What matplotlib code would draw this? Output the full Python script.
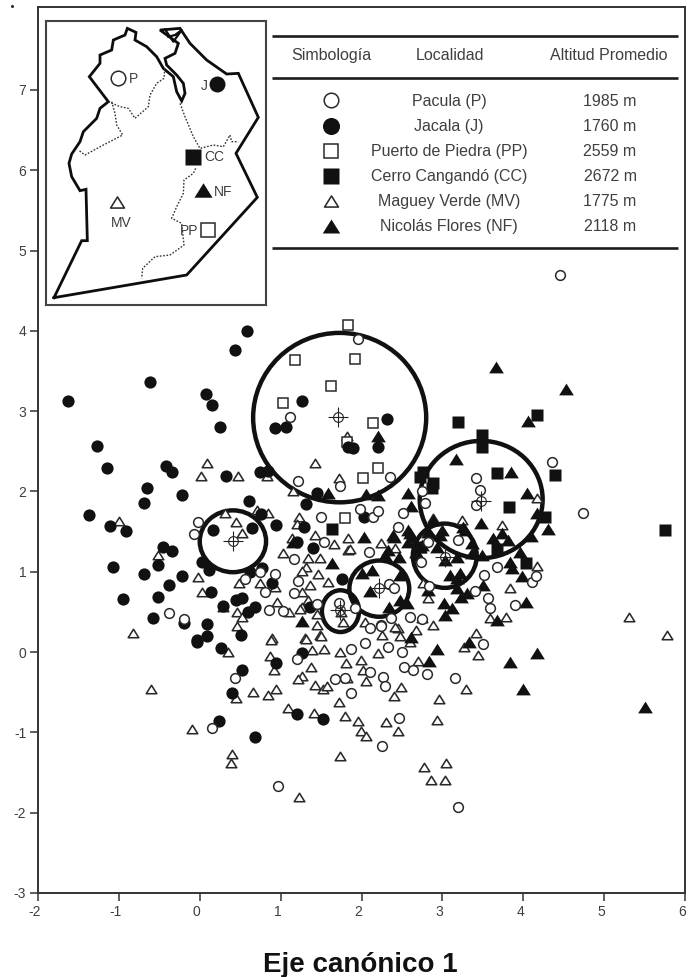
import matplotlib
matplotlib.use('Agg')
import matplotlib.pyplot as plt
from matplotlib.markers import MarkerStyle
from matplotlib.patches import Ellipse
from matplotlib.path import Path
from matplotlib.transforms import ScaledTranslation

plt.rcParams['font.family'] = ['Liberation Sans', 'DejaVu Sans']
plt.rcParams['axes.unicode_minus'] = False

# Data (eje canonico 1, eje canonico 2)
pacula_x = [1.12, 1.21, 1.73, 1.50, -0.02, -0.07, 1.54, 1.16, 1.22, 1.17, 0.56, 0.74, 0.93, 0.81, 0.86, 1.03, 1.45, 1.72,
            -0.38, -0.19, 1.96, 3.42, 3.46, 3.42, 4.35, 4.74, 2.75, 2.78, 2.51, 2.45, 2.35, 1.98, 2.14, 2.21, 2.09, 2.82,
            3.19, 2.73, 3.67, 3.52, 3.40, 3.56, 3.59, 3.90, 4.11, 4.16, 2.83, 2.34, 2.40, 1.92, 2.60, 2.37, 2.24, 2.10,
            0.43, 1.20, 1.67, 1.80, 1.87, 1.87, 0.15, 2.04, 2.24, 2.75, 2.33, 2.50, 2.10, 2.26, 2.29, 2.53, 2.64, 2.81,
            3.15, 3.50, 2.46, 2.25, 0.97, 3.19, 4.46]
pacula_y = [2.93, 2.13, 2.07, 1.68, 1.62, 1.47, 1.37, 1.16, 0.89, 0.74, 0.91, 1.00, 0.97, 0.75, 0.52, 0.51, 0.60, 0.61,
            0.49, 0.41, 3.90, 2.17, 2.02, 1.83, 2.37, 1.73, 2.01, 1.86, 1.73, 1.56, 2.18, 1.78, 1.68, 1.76, 1.25, 1.37,
            1.40, 1.12, 1.06, 0.96, 0.76, 0.67, 0.55, 0.59, 0.87, 0.95, 0.82, 0.85, 0.80, 0.55, 0.44, 0.42, 0.34, 0.30,
            -0.32, -0.08, -0.34, -0.32, -0.51, 0.04, -0.95, 0.11, 0.32, 0.41, 0.06, 0.00, -0.25, -0.31, -0.42, -0.19, -0.22, -0.27,
            -0.32, 0.10, -0.82, -1.17, -1.67, -1.93, 4.69]

jacala_x = [-1.63, -1.27, -1.15, -0.61, 0.08, 0.15, 0.25, 0.43, 0.58, -0.42, -0.34, -0.65, -0.69, -0.22, -1.37, -1.11, -0.91,
            -1.07, -0.69, -0.52, -0.45, -0.34, -0.22, -0.38, -0.52, -0.95, -0.58, -0.19, 0.09, 0.09, -0.03, 0.32, 0.75, 0.85,
            0.61, 0.76, 0.94, 1.29, 1.31, 0.16, 0.64, 0.03, 0.11, 0.62, 0.77, 0.14, 0.29, 0.45, 0.52, 0.68, 0.60, 0.51, 0.89,
            1.20, 1.40, 1.76, 1.36, 1.27, 0.93, 1.07, 1.45, 1.83, 2.31, 2.21, 1.89, 2.03, -0.03, 0.26, 0.94, 1.26, 0.52, 0.40,
            0.24, 0.68, 1.20, 1.52]
jacala_y = [3.13, 2.57, 2.29, 3.36, 3.22, 3.08, 2.80, 3.76, 4.00, 2.32, 2.24, 2.04, 1.86, 1.96, 1.71, 1.57, 1.51,
            1.06, 0.97, 1.08, 1.31, 1.26, 0.95, 0.84, 0.69, 0.66, 0.42, 0.36, 0.35, 0.20, 0.15, 2.19, 2.24, 2.25,
            1.88, 1.72, 1.58, 1.56, 1.84, 1.52, 1.54, 1.12, 1.02, 1.00, 1.05, 0.75, 0.57, 0.65, 0.67, 0.56, 0.50, 0.21, 0.86,
            1.37, 1.30, 0.91, 0.56, 3.13, 2.79, 2.80, 1.98, 2.55, 2.90, 2.55, 2.54, 1.68, 0.12, 0.05, -0.13, -0.01, -0.22, -0.51,
            -0.86, -1.06, -0.77, -0.83]

puerto_x = [1.18, 1.62, 1.03, 1.83, 1.82, 1.79, 1.92, 2.14, 2.21, 2.02]
puerto_y = [3.64, 3.31, 3.10, 4.07, 2.62, 1.67, 3.65, 2.85, 2.29, 2.17]

cerro_x = [3.19, 4.17, 3.49, 3.49, 3.67, 4.39, 3.82, 4.27, 5.75, 2.76, 2.72, 2.89, 2.87, 4.03, 3.68, 1.64, 2.72]
cerro_y = [2.86, 2.95, 2.70, 2.55, 2.23, 2.20, 1.81, 1.68, 1.52, 2.24, 2.18, 2.10, 2.04, 1.11, 1.28, 1.53, 1.31]

maguey_x = [0.09, 0.02, 0.47, 1.42, 1.72, 1.82, 0.83, 1.15, -1.00, -0.52, -0.02, 0.03, 0.48, 0.74, -0.82, 0.31, 0.45, 0.52,
            0.71, 0.84, 1.23, 1.20, 1.14, 1.03, 1.43, 1.66, 1.83, 1.83, 1.34, 1.49, 1.31, 1.26, 1.46, 1.59, 1.36, 1.26, 1.34,
            1.26, 0.95, 0.93, 1.10, 0.46, 0.52, 0.46, 0.29, 1.45, 0.89, 1.30, 1.49, 1.77, 1.75, 3.74, 3.24, 2.88, 4.17, 4.17,
            3.84, 3.59, 3.79, 3.42, 5.31, 5.78, 1.86, 2.24, 2.42, 2.82, 2.76, 2.68, 2.88, 2.75, 2.45, 2.25, 2.04, 0.88, 1.31,
            1.50, 1.39, 1.54, 0.35, 0.87, 0.92, 1.74, 1.81, 1.99, 2.02, 2.20, 1.37, 1.27, 1.22, 1.42, 1.52, 1.57, 1.82, 2.05,
            2.49, 2.40, 2.70, 2.96, 3.29, 2.93, 3.27, 3.44, -0.60, 0.45, 0.66, 0.85, 0.94, 1.09, 1.41, 1.72, 1.80, 1.96, 1.99,
            2.05, 2.30, 2.45, -0.10, 0.40, 0.39, 1.73, 2.77, 3.05, 2.86, 3.03, 1.23, 2.42, 2.47, 2.60, 1.24, 1.45]
maguey_y = [2.36, 2.19, 2.19, 2.35, 2.17, 2.69, 2.19, 2.00, 1.63, 1.21, 0.94, 0.75, 0.86, 0.86, 0.24, 1.73, 1.62, 1.48,
            1.77, 1.73, 1.68, 1.59, 1.42, 1.23, 1.46, 1.35, 1.42, 1.27, 1.17, 1.17, 1.06, 1.01, 0.97, 0.87, 0.83, 0.75, 0.65,
            0.56, 0.62, 0.81, 0.50, 0.50, 0.44, 0.32, 0.56, 0.34, 0.18, 0.18, 0.21, 0.37, 0.50, 1.58, 1.64, 1.67, 1.07, 1.92,
            0.80, 0.42, 0.44, 0.24, 0.44, 0.21, 1.28, 1.36, 1.30, 0.67, 0.86, 0.27, 0.34, 0.42, 0.30, 0.21, 0.37, 0.15, 0.16,
            0.20, 0.03, 0.04, 0.00, -0.05, -0.22, 0.00, -0.13, -0.10, -0.22, -0.01, -0.19, -0.30, -0.34, -0.41, -0.46, -0.42, -0.32, -0.36,
            -0.44, -0.55, -0.11, -0.59, -0.46, -0.85, 0.06, -0.04, -0.46, -0.57, -0.50, -0.54, -0.46, -0.70, -0.76, -0.62, -0.80, -0.86, -0.98,
            -1.05, -0.87, -0.98, -0.96, -1.27, -1.38, -1.29, -1.43, -1.38, -1.59, -1.59, -1.80, 0.31, 0.20, 0.12, 0.54, 0.47]

nicolas_x = [3.66, 4.53, 4.06, 3.17, 3.85, 4.05, 2.21, 2.05, 2.21, 2.57, 2.61, 3.48, 4.30, 4.17, 4.10, 3.63, 3.74, 3.81, 3.96,
             3.83, 3.86, 3.98, 3.50, 4.03, 3.67, 3.02, 3.12, 3.03, 3.23, 3.18, 3.09, 3.18, 2.82, 2.56, 2.34, 2.10, 2.00, 2.47,
             2.60, 2.40, 2.33, 2.46, 2.03, 2.72, 2.70, 2.93, 3.25, 3.18, 3.37, 3.49, 2.58, 3.00, 2.89, 1.15, 1.63, 1.59, 1.27,
             2.93, 2.83, 3.33, 3.83, 4.17, 4.00, 2.61, 5.50,
             2.39, 2.57, 2.63, 2.75, 2.67, 2.82, 2.97, 3.03, 3.28, 3.37, 3.22, 3.30, 2.29, 2.13, 2.47]
nicolas_y = [3.55, 3.28, 2.88, 2.40, 2.24, 1.98, 2.69, 1.97, 1.96, 1.98, 1.82, 1.61, 1.53, 1.73, 1.44, 1.42, 1.48, 1.39, 1.25,
             1.12, 1.05, 0.95, 0.83, 0.63, 0.40, 0.61, 0.55, 0.46, 0.69, 0.80, 0.96, 0.92, 0.77, 0.61, 0.56, 0.76, 0.98, 0.96,
             1.48, 1.43, 1.27, 1.18, 1.43, 1.31, 1.21, 1.31, 1.56, 1.18, 1.23, 1.21, 1.37, 1.52, 1.64, 1.37, 1.11, 1.98, 0.39,
             0.04, -0.11, 0.12, -0.12, -0.01, -0.46, 0.19, -0.68,
             1.46, 1.52, 1.43, 1.33, 1.25, 1.49, 1.46, 1.15, 1.52, 1.36, 0.98, 0.73, 1.21, 1.02, 0.65]

# group centroids and their rings
centro_x = [1.71, 0.41, 3.48, 3.03, 2.22, 1.74]
centro_y = [2.93, 1.38, 1.88, 1.18, 0.80, 0.52]
anillo_x = [1.73, 0.41, 3.48, 3.03, 2.22, 1.74]
anillo_y = [2.92, 1.38, 1.90, 1.20, 0.79, 0.51]
anillo_ancho = [2.14, 0.82, 1.52, 0.79, 0.74, 0.46]
anillo_alto = [2.11, 0.77, 1.46, 0.80, 0.70, 0.52]

x_ticks = [-2, -1, 0, 1, 2, 3, 4, 5, 6]
y_ticks = [-3, -2, -1, 0, 1, 2, 3, 4, 5, 6, 7]

headers = ['Simbología', 'Localidad', 'Altitud Promedio']
localidades = ['Pacula (P)', 'Jacala (J)', 'Puerto de Piedra (PP)', 'Cerro Cangandó (CC)', 'Maguey Verde (MV)', 'Nicolás Flores (NF)']
altitudes = ['1985 m', '1760 m', '2559 m', '2672 m', '1775 m', '2118 m']

# map outline, in the inset's own units
mapa_x = [162, 245, 262, 258, 240, 215, 207, 215, 240, 250, 290, 300, 325, 268, 300, 300, 335, 340, 375, 382, 408, 405, 440,
          470, 490, 520, 530, 545, 555, 550, 530, 500, 495, 525, 535, 480, 540, 570, 620, 680, 715, 775, 708, 772, 560, 162]
mapa_y = [893, 722, 722, 568, 572, 530, 490, 462, 425, 395, 355, 325, 305, 230, 190, 165, 150, 120, 105, 85, 97, 120, 140,
          170, 205, 230, 275, 303, 280, 250, 225, 195, 175, 160, 130, 90, 85, 130, 180, 222, 220, 352, 460, 592, 825, 893]
gancho_x = [495, 520, 545, 525, 505]
gancho_y = [88, 125, 90, 105, 110]
limites = [
    ([325, 360, 385, 405, 445, 450, 470, 492, 495], [305, 320, 325, 355, 320, 285, 250, 235, 200]),
    ([335, 345, 350, 368, 310, 255, 235], [305, 340, 375, 405, 435, 465, 450]),
    ([540, 555, 580, 600, 640, 670, 690, 695, 715], [310, 350, 410, 445, 435, 440, 405, 425, 425]),
    ([587, 580, 552, 550, 530, 515, 545, 552, 510, 465, 428, 425], [505, 520, 540, 580, 620, 655, 670, 735, 765, 770, 805, 835]),
]

text_color = '#3f3f3f'
ink = '#111111'
tri_path = Path([(-1, -0.8), (1, -0.8), (0, 0.8), (-1, -0.8)], closed=True)
tri_m = MarkerStyle(tri_path, joinstyle='miter')

fig = plt.figure(figsize=(6.96, 9.77), dpi=100)
ax = fig.add_axes([38 / 696, 1 - 893 / 977, 647 / 696, 886.3 / 977])
ax.set_xlim(-2, 6)
ax.set_ylim(-3, 8.037)

# rings go under the points
for cx, cy, w, h in zip(anillo_x, anillo_y, anillo_ancho, anillo_alto):
    ax.add_patch(Ellipse((cx, cy), w, h, fill=False, edgecolor=ink, linewidth=3.2, zorder=2))

ax.plot(maguey_x, maguey_y, ls='none', marker=tri_m, ms=7.6, mfc='white', mec='#2a2a2a', mew=1.15, zorder=3)
ax.plot(puerto_x, puerto_y, ls='none', marker='s', ms=6.9, mfc='white', mec='#2a2a2a', mew=1.1, zorder=3)
ax.plot(jacala_x, jacala_y, ls='none', marker='o', ms=8.8, mfc=ink, mec='none', zorder=4)
ax.plot(nicolas_x, nicolas_y, ls='none', marker=tri_m, ms=10.6, mfc=ink, mec='none', zorder=4)
ax.plot(cerro_x, cerro_y, ls='none', marker='s', ms=8.8, mfc=ink, mec='none', zorder=4)
ax.plot(pacula_x, pacula_y, ls='none', marker='o', ms=7.0, mfc='white', mec='#2a2a2a', mew=1.1, zorder=5)

# centroids
ax.plot(centro_x, centro_y, ls='none', marker='+', ms=15, mec='#222222', mew=0.8, zorder=6)
ax.plot(centro_x, centro_y, ls='none', marker='o', ms=7, mfc='none', mec='#222222', mew=0.8, zorder=6)

ax.set_xticks(x_ticks)
ax.set_yticks(y_ticks)
ax.tick_params(length=5.5, width=1.1, color='#333333', labelsize=10, labelcolor=text_color, pad=3)
# x labels sit a little left of their ticks in the original
shift = ScaledTranslation(-3 / 100, 0, fig.dpi_scale_trans)
for lab in ax.get_xticklabels():
    lab.set_transform(lab.get_transform() + shift)
for s in ax.spines.values():
    s.set_linewidth(1.4)
    s.set_color('#333333')

# overlay in figure pixels for the table and labels
ov = fig.add_axes([0, 0, 1, 1], facecolor='none')
ov.set_xlim(0, 696)
ov.set_ylim(977, 0)
ov.axis('off')
ov.text(360, 971.5, 'Eje canónico 1', ha='center', va='baseline', fontsize=20, fontweight='bold', color='#111111')
ov.plot([12], [6], ls='none', marker='s', ms=1, color='#222222')

for y0 in [36, 78, 248]:
    ov.plot([272, 678], [y0, y0], color='#1c1c1c', lw=1.9, solid_capstyle='butt')
for xt, label in zip([331, 450, 609], headers):
    ov.text(xt, 60, label, ha='center', va='baseline', fontsize=11.5, color=text_color)

row_y = [106, 131, 156, 181, 206, 231]
for yr, name, alt in zip(row_y, localidades, altitudes):
    ov.text(449, yr, name, ha='center', va='baseline', fontsize=11.5, color=text_color)
    ov.text(610, yr, alt, ha='center', va='baseline', fontsize=11.5, color=text_color)

ov.plot([331], [100], ls='none', marker='o', ms=10.5, mfc='white', mec='#2a2a2a', mew=1.1)
ov.plot([331], [126], ls='none', marker='o', ms=12.3, mfc=ink, mec='none')
ov.plot([331], [151], ls='none', marker='s', ms=10.5, mfc='white', mec='#2a2a2a', mew=1.1)
ov.plot([331], [176], ls='none', marker='s', ms=11.6, mfc=ink, mec='none')
ov.plot([331], [201], ls='none', marker=tri_m, ms=10, mfc='white', mec='#2a2a2a', mew=1.15)
ov.plot([331], [226], ls='none', marker=tri_m, ms=12.6, mfc=ink, mec='none')

# inset map
inset = fig.add_axes([46 / 696, 1 - 305 / 977, 220 / 696, 284.3 / 977], facecolor='white')
inset.set_xlim(138, 798)
inset.set_ylim(915, 62)
inset.set_xticks([])
inset.set_yticks([])
for s in inset.spines.values():
    s.set_linewidth(1.5)
    s.set_color('#444444')
inset.plot(mapa_x, mapa_y, color='#0d0d0d', lw=2.0, solid_joinstyle='miter')
inset.plot(gancho_x, gancho_y, color='#0d0d0d', lw=1.6)
for lx, ly in limites:
    inset.plot(lx, ly, color='#333333', lw=1.0, ls=(0, (1.2, 1.2)))

inset.plot([353], [235], ls='none', marker='o', ms=10.5, mfc='white', mec='#2a2a2a', mew=1.1)
inset.plot([652], [252], ls='none', marker='o', ms=11.5, mfc=ink, mec='none')
inset.plot([578], [472], ls='none', marker='s', ms=12, mfc=ink, mec='none')
inset.plot([608], [570], ls='none', marker=tri_m, ms=13, mfc=ink, mec='none')
inset.plot([352], [605], ls='none', marker=tri_m, ms=10, mfc='white', mec='#2a2a2a', mew=1.15)
inset.plot([625], [690], ls='none', marker='s', ms=10.5, mfc='white', mec='#2a2a2a', mew=1.1)
map_labels = ['P', 'J', 'CC', 'NF', 'MV', 'PP']
map_lx = [399, 612, 643, 670, 365, 567]
map_ly = [238, 258, 472, 575, 668, 692]
for t, lx, ly in zip(map_labels, map_lx, map_ly):
    inset.text(lx, ly, t, ha='center', va='center', fontsize=10, color=text_color)

fig.savefig('out.png', dpi=100)
plt.close()
